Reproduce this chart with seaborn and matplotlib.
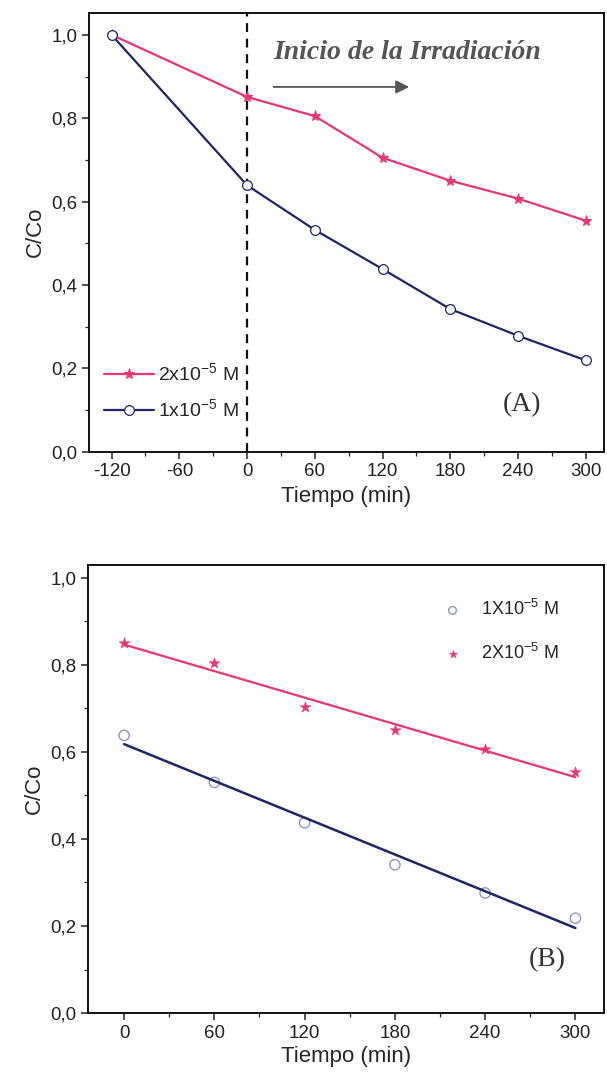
import numpy as np
import pandas as pd
import matplotlib
matplotlib.use('Agg')
import matplotlib.pyplot as plt
from matplotlib.ticker import MultipleLocator, FixedLocator, FixedFormatter
import seaborn as sns

# data
tiempo_a = [-120, 0, 60, 120, 180, 240, 300]
conc_2e5_a = [1.0, 0.851, 0.805, 0.705, 0.650, 0.607, 0.554]
conc_1e5_a = [1.0, 0.639, 0.532, 0.438, 0.342, 0.278, 0.219]

tiempo_b = [0, 60, 120, 180, 240, 300]
conc_1e5_b = [0.638, 0.530, 0.437, 0.341, 0.276, 0.218]
conc_2e5_b = [0.850, 0.804, 0.703, 0.650, 0.606, 0.553]

xticks_a = [-120, -60, 0, 60, 120, 180, 240, 300]
xticks_b = [0, 60, 120, 180, 240, 300]
yticks = [0.0, 0.2, 0.4, 0.6, 0.8, 1.0]
ytick_labels = ["0,0", "0,2", "0,4", "0,6", "0,8", "1,0"]

PINK = "#e8386f"
NAVY = "#1e2568"
LIGHT_BLUE = "#8b95c9"

sns.set_style("ticks")
plt.rcParams['font.family'] = ['Liberation Sans', 'DejaVu Sans']
plt.rcParams['axes.unicode_minus'] = False
plt.rcParams['mathtext.fontset'] = 'custom'
plt.rcParams['mathtext.rm'] = 'Liberation Sans'

fig = plt.figure(figsize=(6.07, 10.8), dpi=100)
ax_a = fig.add_axes([0.1466, 0.5818, 0.8484, 0.4064])
ax_b = fig.add_axes([0.1450, 0.0620, 0.8500, 0.4150])

df_a = pd.DataFrame({"t": tiempo_a, "c2": conc_2e5_a, "c1": conc_1e5_a})
df_b = pd.DataFrame({"t": tiempo_b, "c1": conc_1e5_b, "c2": conc_2e5_b})

# ---- panel A
sns.lineplot(data=df_a, x="t", y="c2", ax=ax_a, color=PINK, lw=1.6,
             marker="*", markersize=8, markeredgecolor=PINK,
             label="2x10$^{-5}$ M")
sns.lineplot(data=df_a, x="t", y="c1", ax=ax_a, color=NAVY, lw=1.6,
             marker="o", markersize=7, markerfacecolor="white",
             markeredgecolor=NAVY, markeredgewidth=0.9,
             label="1x10$^{-5}$ M")
ax_a.axvline(0, color="#111111", lw=1.6, ls=(0, (4, 3)), zorder=0)

ax_a.text(23, 0.958, "Inicio de la Irradiación", family="Liberation Serif",
          style="italic", weight="bold", fontsize=20, color="#555555",
          ha="left", va="center")
ax_a.annotate("", xy=(146, 0.875), xytext=(21, 0.875),
              arrowprops=dict(arrowstyle="-|>", color="#555555", lw=1.3,
                              mutation_scale=20))
ax_a.text(243, 0.112, "(A)", family="Liberation Serif", fontsize=20,
          color="#333333", ha="center", va="center")

ax_a.set_xlim(-140, 316)
ax_a.set_ylim(0, 1.053)
ax_a.xaxis.set_major_locator(FixedLocator(xticks_a))
ax_a.xaxis.set_minor_locator(MultipleLocator(30))
ax_a.set_xlabel("Tiempo (min)", fontsize=16)

ax_a.legend(loc="lower left", bbox_to_anchor=(-0.005, 0.03),
            frameon=False, fontsize=14, handlelength=2.6,
            handletextpad=0.2, labelspacing=0.7)

# ---- panel B
sns.scatterplot(data=df_b, x="t", y="c1", ax=ax_b, marker="o", s=55,
                facecolor="none", edgecolor=LIGHT_BLUE, linewidth=1.0,
                label="1X10$^{-5}$ M")
sns.scatterplot(data=df_b, x="t", y="c2", ax=ax_b, marker="*", s=70,
                color=PINK, edgecolor=PINK, linewidth=0.3,
                label="2X10$^{-5}$ M")
sns.regplot(data=df_b, x="t", y="c1", ax=ax_b, ci=None, scatter=False,
            color=NAVY, line_kws=dict(lw=1.8))
sns.regplot(data=df_b, x="t", y="c2", ax=ax_b, ci=None, scatter=False,
            color=PINK, line_kws=dict(lw=1.6))
ax_b.text(281, 0.122, "(B)", family="Liberation Serif", fontsize=20,
          color="#333333", ha="center", va="center")

ax_b.set_xlim(-24, 319)
ax_b.set_ylim(0, 1.03)
ax_b.xaxis.set_major_locator(FixedLocator(xticks_b))
ax_b.xaxis.set_minor_locator(MultipleLocator(30))
ax_b.set_xlabel("Tiempo (min)", fontsize=16, labelpad=3)

ax_b.legend(loc="upper left", bbox_to_anchor=(0.64, 0.96), frameon=False,
            fontsize=13, handletextpad=0.6, labelspacing=1.3, markerscale=0.75)

for ax in (ax_a, ax_b):
    ax.yaxis.set_major_locator(FixedLocator(yticks))
    ax.yaxis.set_major_formatter(FixedFormatter(ytick_labels))
    ax.yaxis.set_minor_locator(MultipleLocator(0.1))
    ax.set_ylabel("C/Co", fontsize=16)
    ax.tick_params(which="major", direction="out", length=5, width=1.1,
                   labelsize=13.5, colors="#222222")
    ax.tick_params(which="minor", direction="out", length=3, width=0.9)
    for sp in ax.spines.values():
        sp.set_visible(True)
        sp.set_linewidth(1.4)
        sp.set_color("#111111")

fig.savefig("out.png", dpi=100)
